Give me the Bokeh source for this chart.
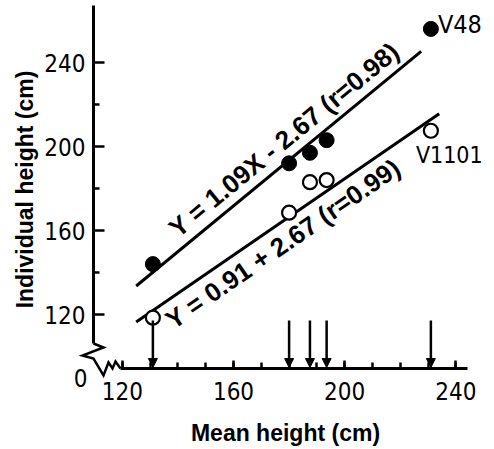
import math
from bokeh.plotting import figure
from bokeh.models import FixedTicker, Arrow, NormalHead, ColumnDataSource
from bokeh.core.properties import value
from bokeh.embed import file_html
from bokeh.resources import INLINE

# Mean height of the population (cm) and heights of two individual lines
mean_height = [131, 180, 187.5, 193.5, 231]
v48_height = [144, 192, 197, 203, 256]
v1101_height = [118.5, 168.5, 183, 184, 207.5]

# Regression fits: Y = slope * X + intercept
v48_fit = (1.09, -2.67)
v1101_fit = (0.91, 2.67)
v48_fit_x = [125, 227.5]
v1101_fit_x = [125, 234]
v48_eq = "Y = 1.09X - 2.67 (r=0.98)"
v1101_eq = "Y = 0.91 + 2.67 (r=0.99)"

x_ticks = [120, 160, 200, 240]
x_minor = list(range(120, 250, 10))
y_ticks = [120, 160, 200, 240]
y_minor = [140, 180, 220]

W, H = 494, 449
SX, SY = 2.78, 2.1                 # px per cm
X_LO = 160 - 233 / SX
X_HI = X_LO + W / SX
Y_HI = 120 + 314 / SY
Y_LO = Y_HI - H / SY

def dx(px):
    return X_LO + px / SX

def dy(py):
    return Y_HI - py / SY

AXIS_X = dx(93)    # where the vertical axis stands
AXIS_Y = dy(368)   # where the horizontal axis runs

BOLD = "Liberation Sans"
TICKF = "DejaVu Sans Condensed"

p = figure(width=W, height=H, x_range=(X_LO, X_HI), y_range=(Y_LO, Y_HI),
           output_backend="svg", toolbar_location=None,
           min_border_left=0, min_border_right=0, min_border_top=0, min_border_bottom=0)
p.outline_line_color = None
p.grid.visible = False

for ax, ticks, minor in ((p.xaxis, x_ticks, x_minor), (p.yaxis, y_ticks, y_minor)):
    ax.ticker = FixedTicker(ticks=ticks, minor_ticks=minor)
    ax.axis_line_width = 3
    ax.axis_line_color = "black"
    ax.major_tick_line_width = 2.5
    ax.minor_tick_line_width = 2.5
    ax.major_tick_out = 0
    ax.minor_tick_out = 0
    ax.major_label_text_font = TICKF
    ax.major_label_text_font_size = "24px"
    ax.major_label_text_color = "black"

p.xaxis.fixed_location = AXIS_Y
p.yaxis.fixed_location = AXIS_X
p.xaxis.major_tick_in = 8
p.xaxis.minor_tick_in = 6
p.yaxis.major_tick_in = 11
p.yaxis.minor_tick_in = 6
p.xaxis.major_label_standoff = 13
p.yaxis.major_label_standoff = 8

# axis break: both axes stop short of the corner, joined by a zigzag
p.xaxis.bounds = (AXIS_X + 27 / SX, 244)
p.yaxis.bounds = (AXIS_Y + 25 / SY, dy(5))

zz = [(0, -25), (10, -21), (-11, -13), (0, -10), (10, 7), (15, -6), (19, 0), (22, -7), (27, 0)]
p.line([dx(93 + a) for a, b in zz], [dy(368 + b) for a, b in zz],
       line_color="black", line_width=2.5, line_join="miter")
p.text(x=[dx(80)], y=[dy(377)], text=["0"], text_font=value(TICKF), text_font_size="24px",
       text_align="center", text_baseline="middle", text_color="black")

# axis titles
p.text(x=[dx(285)], y=[dy(432)], text=["Mean height (cm)"], text_font=value(BOLD),
       text_font_style="bold", text_font_size="23px", text_align="center",
       text_baseline="middle", text_color="black")
p.text(x=[dx(24)], y=[dy(189)], text=["Individual height (cm)"], angle=math.pi / 2,
       text_font=value(BOLD), text_font_style="bold", text_font_size="23px",
       text_align="center", text_baseline="middle", text_color="black")

# arrows marking each mean height
arrow_top = 117.1
arrow_src = ColumnDataSource(dict(x=mean_height, y0=[arrow_top] * len(mean_height),
                                  y1=[AXIS_Y + 1 / SY] * len(mean_height)))
p.add_layout(Arrow(x_start="x", y_start="y0", x_end="x", y_end="y1", source=arrow_src,
                   line_width=2.5, line_color="black",
                   end=NormalHead(size=9, fill_color="black", line_color="black", line_width=1)))

# regression lines
for xs, (m, b) in ((v48_fit_x, v48_fit), (v1101_fit_x, v1101_fit)):
    p.line(xs, [m * x + b for x in xs], line_color="black", line_width=3)

p.scatter(mean_height, v48_height, size=15, fill_color="black", line_color="black")
p.scatter(mean_height, v1101_height, size=14, fill_color="white", line_color="black", line_width=2.2)

# equations along the lines
ang48 = math.atan(v48_fit[0] * SY / SX)
ang1101 = math.atan(v1101_fit[0] * SY / SX)
p.text(x=[dx(172)], y=[dy(231)], text=[v48_eq], angle=ang48,
       text_font=value(BOLD), text_font_style="bold", text_font_size="26px",
       text_align="left", text_baseline="alphabetic", text_color="black")
p.text(x=[dx(168)], y=[dy(322)], text=[v1101_eq], angle=ang1101,
       text_font=value(BOLD), text_font_style="bold", text_font_size="26px",
       text_align="left", text_baseline="alphabetic", text_color="black")

# line names
p.text(x=[mean_height[-1]], y=[v48_height[-1]], text=["V48"], x_offset=7, y_offset=-4,
       text_font=value(TICKF), text_font_size="25px", text_align="left",
       text_baseline="middle", text_color="black")
p.text(x=[mean_height[-1]], y=[v1101_height[-1]], text=["V1101"], x_offset=-15, y_offset=24,
       text_font=value(TICKF), text_font_size="23px", text_align="left",
       text_baseline="middle", text_color="black")

open("out.html", "w").write(file_html(p, INLINE))
